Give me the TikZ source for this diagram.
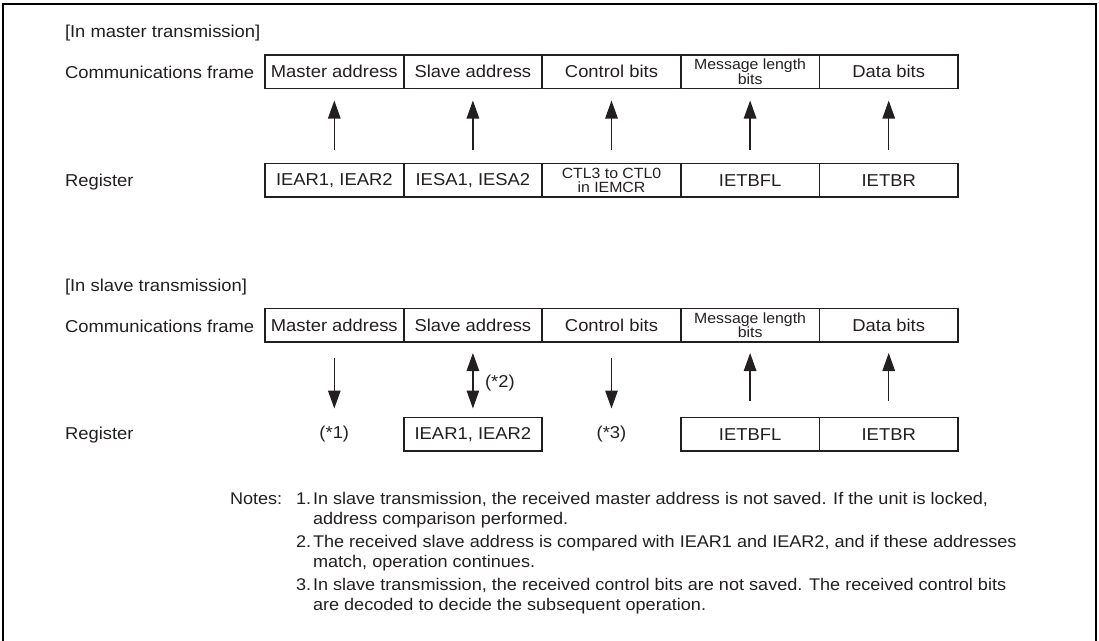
\documentclass[tikz,border=0pt]{standalone}
\usepackage{fontspec}
\setmainfont{Liberation Sans}[FakeStretch=1.07]
\usetikzlibrary{arrows.meta}
\definecolor{ink}{HTML}{231F20}
\newcommand{\twolines}[2]{\vtop{\baselineskip=20.5pt\hbox{#1}\hbox{#2}}}
\begin{document}
\begin{tikzpicture}[x=1pt,y=-1pt,
  every node/.style={font=\fontsize{17.2}{20}\selectfont, text=ink, inner sep=0pt, outer sep=0pt},
  cell/.style={draw=ink, line width=1.8pt, minimum width=138.6pt, minimum height=33.5pt, anchor=north west},
  small/.style={font=\fontsize{14.8}{13.5}\selectfont, align=center},
  lbl/.style={anchor=west},
  blank/.style={minimum width=138.6pt, minimum height=33.5pt, anchor=north west},
  arr/.style={draw=ink, line width=1.3pt, -{Triangle[length=18pt,width=12.5pt]}},
  darr/.style={draw=ink, line width=1.3pt, {Triangle[length=18pt,width=12.5pt]}-{Triangle[length=18pt,width=12.5pt]}},
  note/.style={anchor=base west, font=\fontsize{16.9}{20.5}\selectfont},
]
\useasboundingbox (0,0) rectangle (1099,640);
\draw[line width=2.4pt, black] (3,700) -- (3,4) -- (1096,4) -- (1096,700);

% ---- master transmission
\node[lbl] (tm) at (65,33) {[In master transmission]};
\node[lbl] (cf1) at (65,72) {Communications frame};
\node[lbl] (rg1) at (65,182) {Register};

\node[cell] (f1a) at (265,55) {Master address};
\node[cell] (f1b) at (403.6,55) {Slave address};
\node[cell] (f1c) at (542.2,55) {Control bits};
\node[cell, small] (f1d) at (680.8,55) {Message length\\bits};
\node[cell] (f1e) at (819.4,55) {Data bits};

\node[cell] (r1a) at (265,163.5) {IEAR1, IEAR2};
\node[cell] (r1b) at (403.6,163.5) {IESA1, IESA2};
\node[cell, small] (r1c) at (542.2,163.5) {CTL3 to CTL0\\in IEMCR};
\node[cell] (r1d) at (680.8,163.5) {IETBFL};
\node[cell] (r1e) at (819.4,163.5) {IETBR};

\foreach \s in {a,b,c,d,e}{
  \draw[arr, shorten <=14pt, shorten >=12pt] (r1\s.north) -- (f1\s.south);
}

% ---- slave transmission
\node[lbl] (ts) at (65,287) {[In slave transmission]};
\node[lbl] (cf2) at (65,326) {Communications frame};
\node[lbl] (rg2) at (65,435) {Register};

\node[cell] (f2a) at (265,308.5) {Master address};
\node[cell] (f2b) at (403.6,308.5) {Slave address};
\node[cell] (f2c) at (542.2,308.5) {Control bits};
\node[cell, small] (f2d) at (680.8,308.5) {Message length\\bits};
\node[cell] (f2e) at (819.4,308.5) {Data bits};

\node[blank] (r2a) at (265,417.5) {(*1)};
\node[cell] (r2b) at (403.6,417.5) {IEAR1, IEAR2};
\node[blank] (r2c) at (542.2,417.5) {(*3)};
\node[cell] (r2d) at (680.8,417.5) {IETBFL};
\node[cell] (r2e) at (819.4,417.5) {IETBR};

\draw[arr, shorten <=16pt, shorten >=9pt] (f2a.south) -- (r2a.north);
\draw[arr, shorten <=16pt, shorten >=9pt] (f2c.south) -- (r2c.north);
\draw[darr, shorten <=11pt, shorten >=9pt] (f2b.south) -- (r2b.north);
\node[anchor=west] (n2) at (485,383) {(*2)};
\draw[arr, shorten <=17pt, shorten >=11pt] (r2d.north) -- (f2d.south);
\draw[arr, shorten <=17pt, shorten >=11pt] (r2e.north) -- (f2e.south);

% ---- notes
\node[note] (notes) at (230,504) {Notes:};
\node[note] (k1) at (296,504) {1.};
\node[note] (t1) at (313,504) {\twolines{In slave transmission, the received master address is not saved. If the unit is locked,}{address comparison performed.}};
\node[note] (k2) at (296,547) {2.};
\node[note] (t2) at (313,547) {\twolines{The received slave address is compared with IEAR1 and IEAR2, and if these addresses}{match, operation continues.}};
\node[note] (k3) at (296,590) {3.};
\node[note] (t3) at (313,590) {\twolines{In slave transmission, the received control bits are not saved. The received control bits}{are decoded to decide the subsequent operation.}};
\end{tikzpicture}
\end{document}
